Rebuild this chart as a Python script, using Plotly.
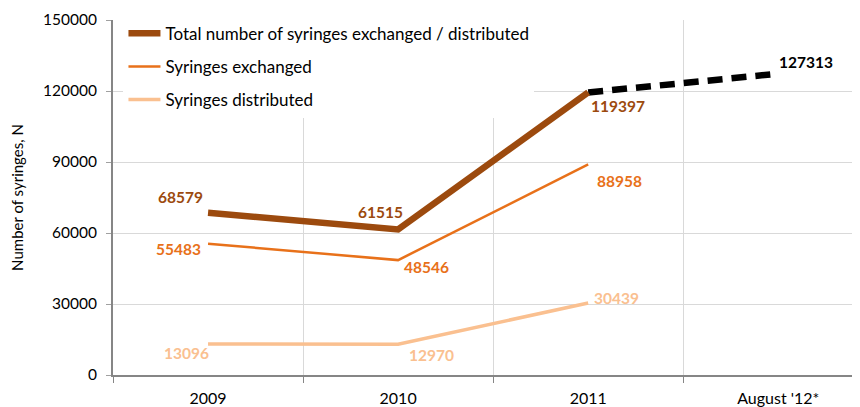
import plotly.graph_objects as go

categories = ["2009", "2010", "2011", "August '12*"]
total = [68579, 61515, 119397]
exchanged = [55483, 48546, 88958]
distributed = [13096, 12970, 30439]
projection_x = ["2011", "August '12*"]
projection = [119397, 127313]

TOTAL_C = "#9C4A0E"
EXCH_C = "#E8711A"
DIST_C = "#FAC090"
FONT = "Lato"

fig = go.Figure()
fig.add_trace(go.Scatter(x=projection_x, y=projection, mode="lines", showlegend=False,
                         line=dict(color="black", width=6.5, dash="15px,9px")))
fig.add_trace(go.Scatter(x=categories[:3], y=total, mode="lines", legendgroup="a",
                         name="Total number of syringes exchanged / distributed",
                         line=dict(color=TOTAL_C, width=6.5)))
fig.add_trace(go.Scatter(x=categories[:3], y=exchanged, mode="lines", legendgroup="b",
                         name="Syringes exchanged", line=dict(color=EXCH_C, width=2.5)))
fig.add_trace(go.Scatter(x=categories[:3], y=distributed, mode="lines", legendgroup="c",
                         name="Syringes distributed", line=dict(color=DIST_C, width=3.5)))

# data labels: (category index, value, colour, xshift, yshift)
labels = [
    (0, total[0], TOTAL_C, -28, 16),
    (1, total[1], TOTAL_C, -18, 17),
    (2, total[2], TOTAL_C, 30, -14),
    (3, projection[1], "black", 28, 12),
    (0, exchanged[0], EXCH_C, -30, -5),
    (1, exchanged[1], EXCH_C, 28, -7),
    (2, exchanged[2], EXCH_C, 31, -17),
    (0, distributed[0], DIST_C, -22, -9),
    (1, distributed[1], DIST_C, 33, -11),
    (2, distributed[2], DIST_C, 28, 5),
]
for idx, val, col, dx, dy in labels:
    fig.add_annotation(x=idx, y=val, text=f"<b>{val}</b>", showarrow=False,
                       xshift=dx, yshift=dy, font=dict(family=FONT, size=15.5, color=col))

# the last category runs past the right edge of the picture
fig.update_xaxes(type="category", categoryorder="array", categoryarray=categories,
                 range=[-0.5, 3.43], tickson="boundaries", ticks="outside", ticklen=6,
                 tickcolor="#868686", showgrid=True, gridcolor="#D9D9D9", gridwidth=1,
                 showline=True, linecolor="#868686", linewidth=2, ticklabelstandoff=8,
                 tickfont=dict(family=FONT, size=16, color="black"))
fig.update_yaxes(range=[0, 150000], dtick=30000, tickformat="d", ticks="outside", ticklen=5,
                 tickcolor="#A0A0A0", showgrid=True, gridcolor="#D9D9D9", gridwidth=1,
                 showline=True, linecolor="#868686", linewidth=2, zeroline=False,
                 ticklabelstandoff=6,
                 tickfont=dict(family=FONT, size=15.5, color="black"),
                 title=dict(text="Number of syringes, N", standoff=16,
                            font=dict(family=FONT, size=15, color="black")))

# page body has an 8px margin, so the figure is shifted by that much
fig.update_layout(
    width=852, height=399,
    margin=dict(l=105, r=0, t=12, b=32, autoexpand=False),
    plot_bgcolor="white", paper_bgcolor="white",
    legend=dict(x=0.014, y=1.012, xanchor="left", yanchor="top", bgcolor="white",
                font=dict(family=FONT, size=17, color="black"), tracegroupgap=8,
                itemwidth=32),
)

fig.write_html("out.html")
